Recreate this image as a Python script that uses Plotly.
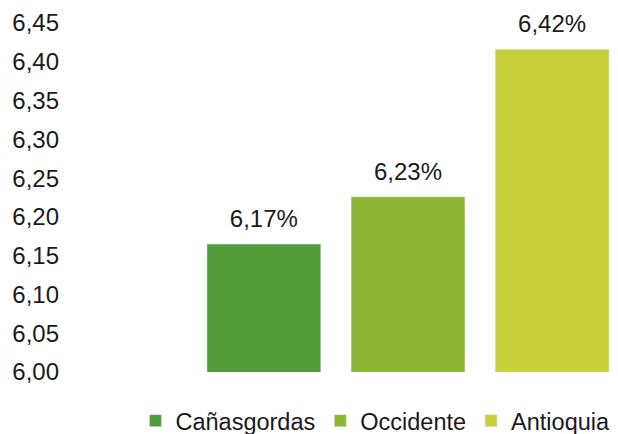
import plotly.graph_objects as go

category = [""]
series_names = ["Cañasgordas", "Occidente", "Antioquia"]
series_values = [6.165, 6.226, 6.416]
value_labels = ["6,17%", "6,23%", "6,42%"]
colors = ["#529C3A", "#8CB634", "#C5D03B"]
y_ticks = [6.00, 6.05, 6.10, 6.15, 6.20, 6.25, 6.30, 6.35, 6.40, 6.45]

fig = go.Figure()
for name, val, col in zip(series_names, series_values, colors):
    fig.add_trace(go.Bar(
        x=category, y=[val], name=name, marker_color=col,
    ))
for name, val, lab in zip(series_names, series_values, value_labels):
    fig.add_trace(go.Scatter(
        x=category, y=[val], name=name, mode="markers+text", text=[lab],
        textposition="top center", cliponaxis=False, showlegend=False,
        marker=dict(size=16, color="rgba(0,0,0,0)"),
        textfont=dict(size=24, color="#1a1a1a"), hoverinfo="skip",
    ))

# page body adds an 8px margin, so the figure is sized to fit the visible window
fig.update_layout(
    width=602, height=426,
    margin=dict(l=54, r=0, t=15, b=62, autoexpand=False),
    paper_bgcolor="white", plot_bgcolor="white",
    font=dict(family="Liberation Sans, Arial, sans-serif", size=23.5, color="#1a1a1a"),
    separators=",.",
    barmode="group", bargap=0.211, bargroupgap=0.21,
    scattermode="group", scattergap=0.211,
    showlegend=True,
    legend=dict(orientation="h", x=1.01, xanchor="right", y=-0.14, yanchor="middle",
                font=dict(size=23.5), itemwidth=30, tracegroupgap=0,
                bgcolor="rgba(0,0,0,0)"),
    xaxis=dict(range=[-0.6314, 0.3686], showticklabels=False, showgrid=False,
               zeroline=False, showline=False, fixedrange=True),
    yaxis=dict(range=[6.0, 6.45], tickvals=y_ticks, tickformat=".2f",
               showgrid=False, zeroline=False, showline=False, ticks="",
               ticklabelstandoff=2, tickfont=dict(size=24)),
)

fig.write_html("out.html")
